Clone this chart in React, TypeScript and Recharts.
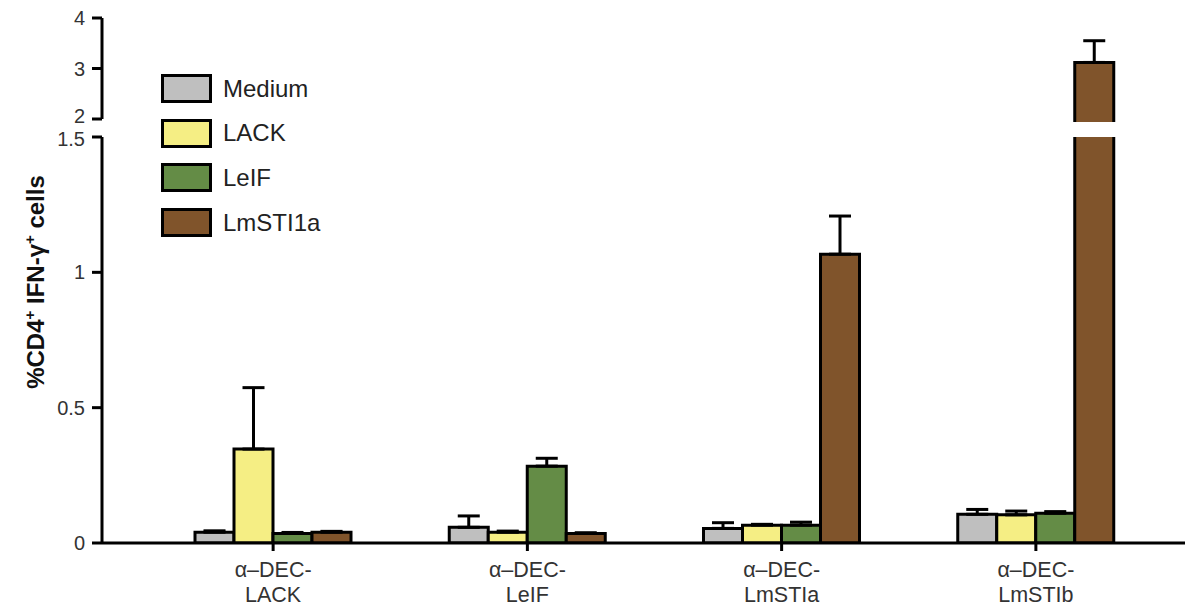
import React from 'react';
import { BarChart, Bar, XAxis, YAxis, ErrorBar, Legend } from 'recharts';

const categories = ['α–DEC-\nLACK', 'α–DEC-\nLeIF', 'α–DEC-\nLmSTIa', 'α–DEC-\nLmSTIb'];
const seriesNames = ['Medium', 'LACK', 'LeIF', 'LmSTI1a'];
const seriesColors = ['#bfbfbf', '#f5ee84', '#648c46', '#80542b'];

const mediumValues = [0.04, 0.058, 0.054, 0.106];
const mediumErrors = [0.005, 0.042, 0.021, 0.018];
const lackValues = [0.347, 0.04, 0.066, 0.104];
const lackErrors = [0.227, 0.004, 0.003, 0.014];
const leifValues = [0.035, 0.284, 0.066, 0.11];
const leifErrors = [0.004, 0.029, 0.011, 0.006];
const lmstiValues = [0.04, 0.035, 1.067, 3.12];
const lmstiErrors = [0.003, 0.003, 0.141, 0.43];

const lowerTicks = [0, 0.5, 1, 1.5];
const upperTicks = [2, 3, 4];
const lowerDomain: [number, number] = [0, 1.5];
const upperDomain: [number, number] = [2, 4];

const allValues = [mediumValues, lackValues, leifValues, lmstiValues];
const allErrors = [mediumErrors, lackErrors, leifErrors, lmstiErrors];

const lowerData = categories.map((cat, i) => {
  const row: any = { cat };
  allValues.forEach((vals, s) => {
    row['v' + s] = vals[i];
    row['e' + s] = [0, allErrors[s][i]];
  });
  return row;
});

const upperData = categories.map((cat, i) => {
  const row: any = { cat };
  allValues.forEach((vals, s) => {
    const over = vals[i] > lowerDomain[1];
    row['v' + s] = over ? vals[i] : null;
    row['e' + s] = over ? [0, allErrors[s][i]] : null;
  });
  return row;
});

const FONT = '"Liberation Sans", Arial, Helvetica, sans-serif';

const XTick = (props: any) => {
  const { x, y, payload } = props;
  const lines = String(payload.value).split('\n');
  return (
    <g transform={`translate(${x},${y})`}>
      {lines.map((l, i) => (
        <text key={i} x={0} y={24 + i * 25} textAnchor="middle" fontSize={21.5} fill="#333" fontFamily={FONT}>
          {l}
        </text>
      ))}
    </g>
  );
};

// nudge the labels next to the axis break apart, as in the reference
const YTick = (props: any) => {
  const { x, y, payload, breakValue, shift } = props;
  const dy = payload.value === breakValue ? shift : 0;
  return (
    <text
      x={x}
      y={y + dy}
      textAnchor="end"
      dominantBaseline="central"
      fontSize={20}
      fill="#333"
      fontFamily={FONT}
    >
      {payload.value}
    </text>
  );
};

const UpperBarShape = (props: any) => {
  const { x, y, width, height, fill } = props;
  if (x == null || y == null || !width || !height) return null;
  const bottom = y + height + 3;
  return (
    <g>
      <rect x={x} y={y} width={width} height={height + 3} fill={fill} />
      <path d={`M${x},${bottom} V${y} H${x + width} V${bottom}`} stroke="#000" strokeWidth={3} fill="none" />
    </g>
  );
};

const LegendContent = (props: any) => {
  const payload = (props.payload || []).slice().sort(
    (a: any, b: any) => seriesNames.indexOf(a.value) - seriesNames.indexOf(b.value)
  );
  return (
    <div style={{ fontFamily: FONT }}>
      {payload.map((p: any) => (
        <div key={p.value} style={{ display: 'flex', alignItems: 'center', height: 29, marginBottom: 15.7 }}>
          <div style={{ width: 45, height: 23, border: '3px solid #000', background: p.color }} />
          <span style={{ marginLeft: 11, fontSize: 24, color: '#222' }}>{p.value}</span>
        </div>
      ))}
    </div>
  );
};

const YLabel = () => (
  <text
    x={44}
    y={282}
    transform="rotate(-90, 44, 282)"
    textAnchor="middle"
    fontSize={24}
    fontWeight="bold"
    fill="#111"
    fontFamily={FONT}
  >
    %CD4
    <tspan fontSize={15} dy={-9}>+</tspan>
    <tspan dy={9}> IFN-γ</tspan>
    <tspan fontSize={15} dy={-9}>+</tspan>
    <tspan dy={9}> cells</tspan>
  </text>
);

export default function App() {
  return (
    <div style={{ position: 'absolute', left: 0, top: 0, width: 1185, height: 607, background: '#fff' }}>
      <div style={{ position: 'absolute', left: 0, top: 0 }}>
        <BarChart
          width={1185}
          height={607}
          data={lowerData}
          margin={{ top: 137, right: 0, bottom: 0, left: 0 }}
          barGap={0}
        >
          <XAxis
            dataKey="cat"
            height={64}
            padding={{ left: 44, right: 22 }}
            axisLine={{ stroke: '#000', strokeWidth: 3 }}
            tickLine={{ stroke: '#000', strokeWidth: 3 }}
            tickSize={8}
            tick={<XTick />}
            interval={0}
          />
          <YAxis
            width={102}
            domain={lowerDomain}
            ticks={lowerTicks}
            interval={0}
            allowDataOverflow
            axisLine={{ stroke: '#000', strokeWidth: 3 }}
            tickLine={{ stroke: '#000', strokeWidth: 3 }}
            tickSize={10}
            tickMargin={7}
            tick={<YTick breakValue={lowerDomain[1]} shift={1.5} />}
            label={<YLabel />}
          />
          <Legend
            layout="vertical"
            align="center"
            verticalAlign="middle"
            wrapperStyle={{ left: 161, top: 74, width: 250, height: 180 }}
            content={<LegendContent />}
          />
          {seriesNames.map((name, s) => (
            <Bar
              key={name}
              dataKey={'v' + s}
              name={name}
              fill={seriesColors[s]}
              stroke="#000"
              strokeWidth={3}
              barSize={39}
              isAnimationActive={false}
            >
              <ErrorBar dataKey={'e' + s} direction="y" width={11} stroke="#000" strokeWidth={3} />
            </Bar>
          ))}
        </BarChart>
      </div>
      <div style={{ position: 'absolute', left: 0, top: 0 }}>
        <BarChart
          width={1185}
          height={130}
          data={upperData}
          margin={{ top: 18, right: 0, bottom: 11, left: 0 }}
          barGap={0}
          style={{ background: 'transparent' }}
        >
          <XAxis dataKey="cat" hide height={0} padding={{ left: 44, right: 22 }} />
          <YAxis
            width={102}
            domain={upperDomain}
            ticks={upperTicks}
            interval={0}
            axisLine={{ stroke: '#000', strokeWidth: 3 }}
            tickLine={{ stroke: '#000', strokeWidth: 3 }}
            tickSize={10}
            tickMargin={7}
            tick={<YTick breakValue={upperDomain[0]} shift={-3} />}
          />
          {seriesNames.map((name, s) => (
            <Bar
              key={name}
              dataKey={'v' + s}
              name={name}
              fill={seriesColors[s]}
              barSize={39}
              shape={<UpperBarShape />}
              isAnimationActive={false}
            >
              <ErrorBar dataKey={'e' + s} direction="y" width={11} stroke="#000" strokeWidth={3} />
            </Bar>
          ))}
        </BarChart>
      </div>
    </div>
  );
}
